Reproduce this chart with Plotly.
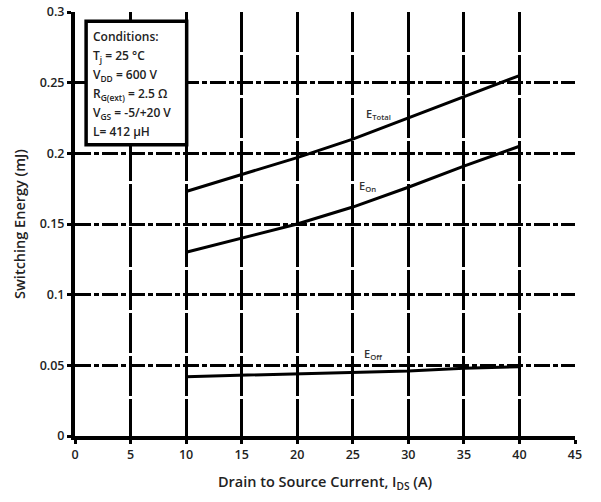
import plotly.graph_objects as go

# Data
current = [10, 15, 20, 25, 30, 35, 40]
e_total = [0.173, 0.185, 0.197, 0.210, 0.225, 0.240, 0.255]
e_on = [0.130, 0.140, 0.150, 0.162, 0.176, 0.191, 0.205]
e_off = [0.042, 0.043, 0.044, 0.045, 0.046, 0.048, 0.049]

x_ticks = [0, 5, 10, 15, 20, 25, 30, 35, 40, 45]
y_ticks = [0, 0.05, 0.1, 0.15, 0.2, 0.25, 0.3]
y_tick_text = ["0", "0.05", "0.1", "0.15", "0.2", "0.25", "0.3"]

conditions = [
    "Conditions:",
    "T<sub>j</sub> = 25 °C",
    "V<sub>DD</sub> = 600 V",
    "R<sub>G(ext)</sub> = 2.5 Ω",
    "V<sub>GS</sub> = -5/+20 V",
    "L= 412 µH",
]

FONT = "Open Sans"
fig = go.Figure()
for ys in (e_total, e_on, e_off):
    fig.add_trace(go.Scatter(x=current, y=ys, mode="lines",
                             line=dict(color="black", width=3),
                             showlegend=False, hoverinfo="skip"))

# Conditions box
fig.add_shape(type="rect", x0=1.0, x1=10.05, y0=0.206, y1=0.2935,
              xref="x", yref="y", line=dict(color="black", width=3.5),
              fillcolor="white", layer="above")
for i, t in enumerate(conditions):
    fig.add_annotation(x=1.45, y=0.2825 - i * 0.01345, xref="x", yref="y",
                       text=t, showarrow=False, xanchor="left", yanchor="middle",
                       font=dict(family=FONT, size=12, color="#222", weight=600))

labels = [("E<sub>Total</sub>", 27.3, 0.228), ("E<sub>On</sub>", 26.3, 0.177),
          ("E<sub>Off</sub>", 26.8, 0.058)]
for t, x, y in labels:
    fig.add_annotation(x=x, y=y, xref="x", yref="y", text=t, showarrow=False,
                       font=dict(family=FONT, size=11, color="#333", weight=600))

fig.update_layout(
    width=601, height=502,
    margin=dict(l=75, r=26, t=12, b=66, autoexpand=False),
    plot_bgcolor="white", paper_bgcolor="white",
    font=dict(family=FONT, color="#222"),
    xaxis=dict(range=[0, 45], tickvals=x_ticks, ticks="outside", ticklen=4,
               tickwidth=3, tickcolor="black", automargin=False,
               showline=True, linewidth=4, linecolor="black",
               showgrid=True, gridcolor="black", gridwidth=3,
               griddash="40px,3px", zeroline=False,
               tickfont=dict(family=FONT, size=12.5, color="#222", weight=600),
               title=dict(text="Drain to Source Current, I<sub>DS</sub> (A)",
                          font=dict(family=FONT, size=14.5, color="#222", weight=600),
                          standoff=16)),
    yaxis=dict(range=[0, 0.3], tickvals=y_ticks, ticktext=y_tick_text,
               ticks="outside", ticklen=4, tickwidth=3, tickcolor="black",
               automargin=False,
               showline=True, linewidth=4, linecolor="black",
               showgrid=True, gridcolor="black", gridwidth=3,
               griddash="16px,3px,5px,3px", zeroline=False,
               tickfont=dict(family=FONT, size=12.5, color="#222", weight=600),
               title=dict(text="Switching Energy (mJ)",
                          font=dict(family=FONT, size=14.5, color="#222", weight=600),
                          standoff=12)),
)

fig.write_html("out.html")
